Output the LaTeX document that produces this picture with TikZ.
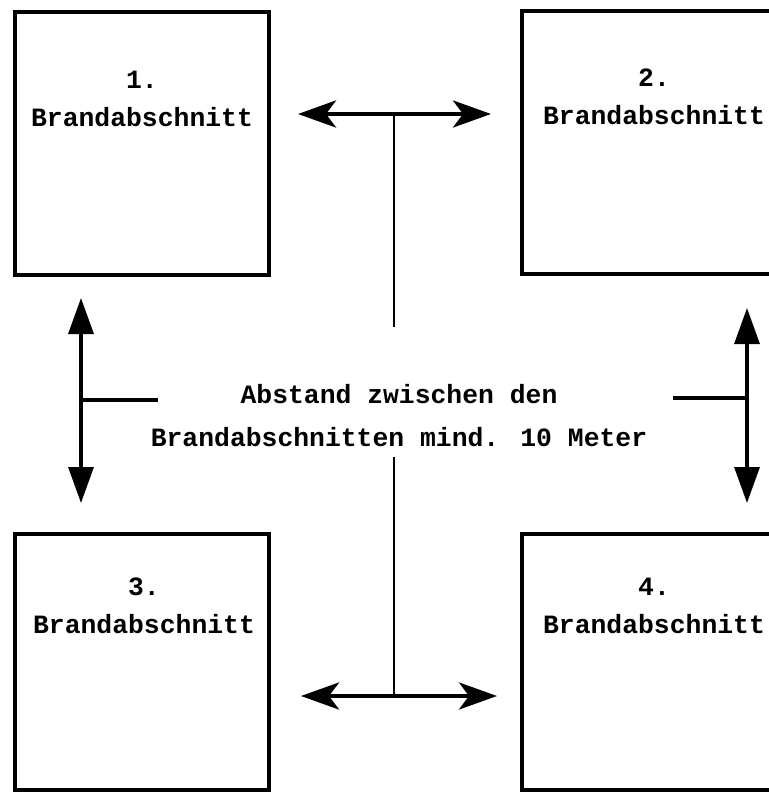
\documentclass[tikz,border=0pt]{standalone}
\usepackage{fontspec}
\newfontfamily\tw{Liberation Mono}
\usetikzlibrary{arrows.meta}
\tikzset{
  feld/.style={draw, line width=2pt, minimum width=127pt, minimum height=131.5pt,
    anchor=north west, inner sep=0pt},
  schrift/.style={font=\tw\bfseries\fontsize{13.2}{19}\selectfont, align=center, inner sep=0pt},
  dpfeil/.style={line width=2.2pt, {Stealth[length=19pt,width=13.5pt,inset=5pt]}-{Stealth[length=19pt,width=13.5pt,inset=5pt]}},
  vpfeil/.style={line width=1.6pt, {Triangle[length=18pt,width=12.5pt]}-{Triangle[length=18pt,width=12.5pt]}},
}
\begin{document}
\begin{tikzpicture}[x=0.5pt, y=-0.5pt]
      \useasboundingbox (0,0) rectangle (769,792);
      \clip (0,0) rectangle (769,792);
      \draw
        (13,10) node[feld] (1){}
        (520,9) node[feld] (2){}
        (13,532) node[feld, minimum height=128pt] (3){}
        (520,532) node[feld, minimum height=128pt] (4){};
      \draw
        (142,99) node[schrift] (l1){1.\\Brandabschnitt}
        (654,97) node[schrift] (l2){2.\\Brandabschnitt}
        (144,606) node[schrift] (l3){3.\\Brandabschnitt}
        (654,606) node[schrift] (l4){4.\\Brandabschnitt}
        (399,416) node[schrift, font=\tw\bfseries\fontsize{13.2}{21.5}\selectfont] (t)
          {Abstand zwischen den\\Brandabschnitten mind. 10 Meter};
      \coordinate (a1) at (298,114);
      \coordinate (a2) at (491,114);
      \coordinate (a3) at (394,115);
      \coordinate (a4) at (394,327);
      \coordinate (b1) at (301,696);
      \coordinate (b2) at (497,696);
      \coordinate (b3) at (394,695);
      \coordinate (b4) at (394,457);
      \coordinate (c1) at (81,298);
      \coordinate (c2) at (81,503);
      \coordinate (c3) at (81,400);
      \coordinate (c4) at (158,400);
      \coordinate (d1) at (747,308);
      \coordinate (d2) at (747,503);
      \coordinate (d3) at (747,398);
      \coordinate (d4) at (673,398);
      \begin{scope}[-]
        \draw[dpfeil] (a1) to (a2);
        \draw[line width=1.2pt] (a3) to (a4);
        \draw[dpfeil] (b1) to (b2);
        \draw[line width=1.2pt] (b3) to (b4);
        \draw[vpfeil] (c1) to (c2);
        \draw[line width=2pt] (c3) to (c4);
        \draw[vpfeil] (d1) to (d2);
        \draw[line width=2pt] (d3) to (d4);
      \end{scope}
    \end{tikzpicture}
\end{document}
